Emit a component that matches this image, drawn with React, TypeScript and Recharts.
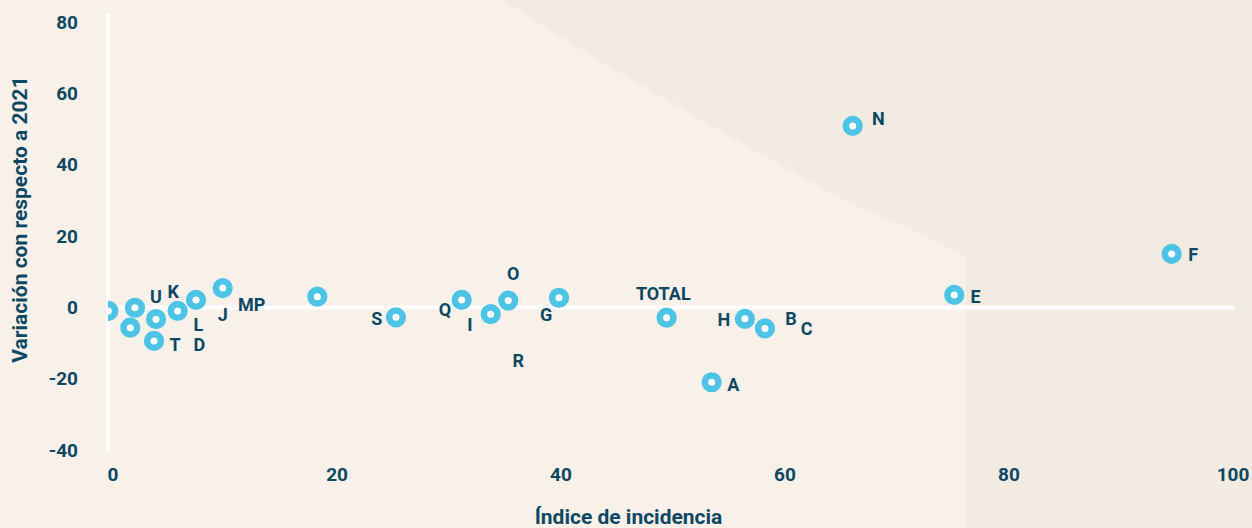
import React from 'react';
import { ScatterChart, Scatter, XAxis, YAxis, ReferenceLine } from 'recharts';

// Sector points: x = índice de incidencia, y = variación con respecto a 2021
const pointNames = ['R', 'U', 'D', 'L', 'T', 'K', 'J', 'MP', 'B', 'S', 'Q', 'I', 'O', 'G', 'TOTAL', 'H', 'C', 'A', 'N', 'E', 'F'];
const incidencia = [-0.42, 1.96, 1.54, 3.84, 3.66, 5.77, 7.41, 9.79, 18.24, 25.26, 31.13, 33.72, 35.29, 39.82, 49.43, 56.42, 58.21, 53.45, 66.04, 75.11, 94.52];
const variacion = [-1.0, -0.1, -5.7, -3.3, -9.4, -1.0, 2.1, 5.4, 3.0, -2.8, 2.1, -1.9, 1.9, 2.7, -2.9, -3.2, -5.9, -21.0, 50.9, 3.5, 15.0];

// Text labels as placed in the original chart (data units)
const labelTexts = ['U', 'K', 'L', 'D', 'T', 'J', 'MP', 'S', 'Q', 'I', 'O', 'G', 'R', 'TOTAL', 'H', 'B', 'C', 'A', 'N', 'E', 'F'];
const labelX = [3.84, 5.38, 7.61, 7.7, 5.53, 9.79, 12.38, 23.54, 29.64, 31.87, 35.74, 38.66, 36.18, 49.13, 54.55, 60.53, 61.93, 55.38, 68.33, 77.02, 96.45];
const labelY = [3.0, 4.4, -4.9, -10.5, -10.5, -1.9, 0.7, -3.1, -0.7, -4.7, 9.6, -2.1, -14.8, 3.8, -3.3, -3.1, -5.9, -21.5, 53.0, 3.0, 14.7];

const xTicks = [0, 20, 40, 60, 80, 100];
const yTicks = [-40, -20, 0, 20, 40, 60, 80];

const xTitle = 'Índice de incidencia';
const yTitle = 'Variación con respecto a 2021';

const points = pointNames.map((name, i) => ({ name, x: incidencia[i], y: variacion[i] }));
const labels = labelTexts.map((text, i) => ({ text, x: labelX[i], y: labelY[i] }));

const TEXT = '#0d4863';
const CYAN = '#4cc4e6';
const FONT = 'Roboto, "Noto Sans", sans-serif';

const Ring = (props: any) => {
  const { cx, cy } = props;
  if (cx == null || cy == null) return null;
  return <circle cx={cx} cy={cy} r={6.8} fill="#ffffff" stroke={CYAN} strokeWidth={6.6} />;
};

const LabelText = (props: any) => {
  const { cx, cy, payload } = props;
  if (cx == null || cy == null) return null;
  return (
    <text x={cx} y={cy} textAnchor="middle" dominantBaseline="central" fill={TEXT}
      fontFamily={FONT} fontWeight={700} fontSize={18}>
      {payload.text}
    </text>
  );
};

const XTitle = (props: any) => {
  const vb = props.viewBox || {};
  return (
    <text x={vb.x + vb.width / 2 - 42} y={vb.y + 67} textAnchor="middle" dominantBaseline="central"
      fill={TEXT} fontFamily={FONT} fontWeight={700} fontSize={21}>
      {xTitle}
    </text>
  );
};

const YTitle = (props: any) => {
  const vb = props.viewBox || {};
  const cx = vb.x + 20;
  const cy = vb.y + vb.height / 2 - 13;
  return (
    <text x={cx} y={cy} transform={`rotate(-90 ${cx} ${cy})`} textAnchor="middle" dominantBaseline="central"
      fill={TEXT} fontFamily={FONT} fontWeight={700} fontSize={21}>
      {yTitle}
    </text>
  );
};

export default function App() {
  const tickStyle = { fill: TEXT, fontFamily: FONT, fontWeight: 700, fontSize: 19 };
  return (
    <div style={{ position: 'absolute', left: 0, top: 0, width: 1252, height: 528, background: '#f7f1ea', overflow: 'hidden' }}>
      <svg width={1252} height={528} style={{ position: 'absolute', left: 0, top: 0 }}>
        <polygon
          points="503,0 593,57 736,140 843,200 914,230 966,257 966,528 1252,528 1252,0"
          fill="#f2ebe1"
        />
      </svg>
      <div style={{ position: 'absolute', left: 0, top: 0 }}>
        <ScatterChart width={1252} height={528} margin={{ top: 15, right: 19, bottom: 0, left: 0 }}>
          <XAxis
            type="number"
            dataKey="x"
            domain={[-0.45, 100]}
            ticks={xTicks}
            axisLine={false}
            tickLine={false}
            tickMargin={12}
            height={78}
            tick={tickStyle}
            allowDataOverflow
            label={{ content: <XTitle /> }}
          />
          <YAxis
            type="number"
            dataKey="y"
            domain={[-40, 82]}
            ticks={yTicks}
            axisLine={{ stroke: '#ffffff', strokeWidth: 4, strokeLinecap: 'round' }}
            tickLine={false}
            tickMargin={24}
            width={108}
            tick={tickStyle}
            allowDataOverflow
            label={{ content: <YTitle /> }}
          />
          <ReferenceLine y={0} stroke="#ffffff" strokeWidth={4} strokeLinecap="round" />
          <Scatter data={points} shape={<Ring />} isAnimationActive={false} />
          <Scatter data={labels} shape={<LabelText />} isAnimationActive={false} />
        </ScatterChart>
      </div>
    </div>
  );
}
